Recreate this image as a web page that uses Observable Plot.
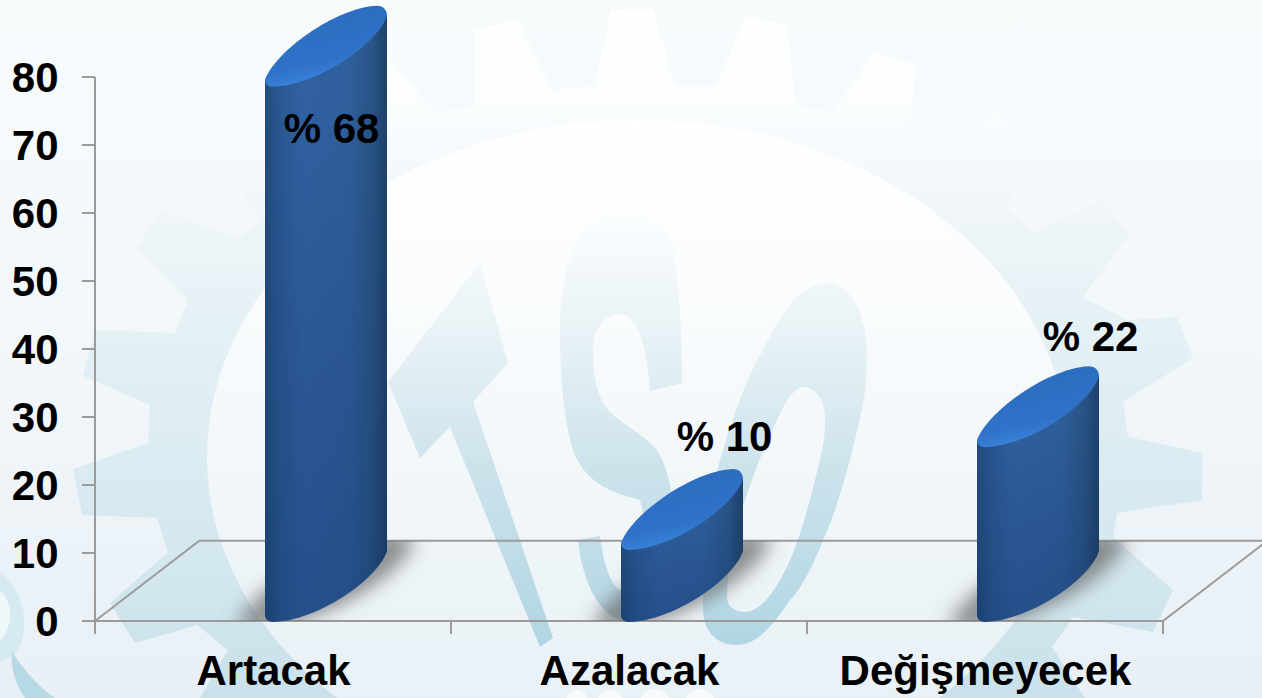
<!DOCTYPE html>
<html lang="tr">
<head>
<meta charset="utf-8">
<script src="https://cdn.jsdelivr.net/npm/d3@7"></script>
<script src="https://cdn.jsdelivr.net/npm/@observablehq/plot@0.6"></script>
<style>
  html, body { margin: 0; padding: 0; width: 1262px; height: 698px; overflow: hidden; background: #eaf2f6; }
  #bg { position: absolute; left: 0; top: 0; width: 1262px; height: 698px; }
  #chart { position: absolute; left: 0; top: 0; }
  #chart svg { display: block; background: transparent; }
</style>
</head>
<body>
<div id="bg"></div>
<div id="chart"></div>
<script>
// --- data ---
const categories = ["Artacak", "Azalacak", "Değişmeyecek"];
const percentages = [68, 10, 22];          // printed labels
const drawnHeights = [78.7, 10.6, 25.7];   // height of the drawn 3-D shapes against the axis
const yTicks = [0, 10, 20, 30, 40, 50, 60, 70, 80];
const floorDepth = 11.8;                   // back edge of the floor, in axis units

const rows = categories.map((category, i) => ({
  category, percent: percentages[i], height: drawnHeights[i]
}));

// --- layout and style, kept apart from the data ---
const font = "'Liberation Sans', Arial, sans-serif";
const labelPlace = [{dx: 58, level: 72.3}, {dx: 95, level: 27.1}, {dx: 105, level: 41.8}];
const gridColor = "#9b9b9b";

// --- decorative watermark (gear and letters) ---
const gearOutline = "200,698 228,650 197,625 135,643 110,603 168,552 157,518 82,515 73,469 148,443 150,405 83,376 95,330 175,333 188,300 137,247 160,210 238,238 260,220 225,165 260,135 318,178 345,155 330,85 390,57 435,113 473,105 475,30 517,20 553,90 595,85 611,10 653,9 676,86 716,86 745,17 787,25 796,105 832,112 874,52 916,65 910,133 932,157 997,112 1033,140 1008,208 1033,233 1100,200 1130,233 1083,297 1128,320 1177,317 1193,358 1123,402 1128,437 1203,453 1202,500 1117,513 1113,537 1173,590 1153,632 1073,617 1052,647 1085,698";
const bgSvg = `<svg xmlns="http://www.w3.org/2000/svg" width="1262" height="698" viewBox="0 0 1262 698">
<defs>
<linearGradient id="page" x1="0" y1="0" x2="0" y2="1"><stop offset="0" stop-color="#f7fbfc"/><stop offset="0.5" stop-color="#f2f7fa"/><stop offset="1" stop-color="#e8f0f6"/></linearGradient>
<linearGradient id="gear" gradientUnits="userSpaceOnUse" x1="0" y1="0" x2="0" y2="698"><stop offset="0" stop-color="#ffffff"/><stop offset="0.14" stop-color="#fbfdfe"/><stop offset="0.3" stop-color="#f0f6f9"/><stop offset="0.45" stop-color="#e6f1f5"/><stop offset="0.65" stop-color="#dbecf2"/><stop offset="1" stop-color="#c9e1ea"/></linearGradient>
<linearGradient id="hole" gradientUnits="userSpaceOnUse" x1="0" y1="120" x2="0" y2="698"><stop offset="0" stop-color="#ffffff"/><stop offset="0.3" stop-color="#fafcfd"/><stop offset="0.6" stop-color="#f2f7fa"/><stop offset="1" stop-color="#e8f1f6"/></linearGradient>
<linearGradient id="ink" gradientUnits="userSpaceOnUse" x1="0" y1="215" x2="0" y2="650"><stop offset="0" stop-color="#fbfdfe"/><stop offset="0.3" stop-color="#e6f1f5"/><stop offset="0.6" stop-color="#cbe2eb"/><stop offset="1" stop-color="#b0d5e3"/></linearGradient>
</defs>
<rect width="1262" height="698" fill="url(#page)"/>
<polygon points="${gearOutline}" fill="url(#gear)"/>
<ellipse cx="638" cy="457" rx="431" ry="337" fill="url(#hole)"/>
<g fill="url(#ink)">
<polygon points="480,263 508,363 473,402 553,638 540,647 450,427 420,458 388,382"/>
<path d="M682,383 L650,391 C648,355 640,314 620,314 C600,314 593,335 593,350 C593,380 598,400 610,412 C625,427 650,437 660,455 C670,475 678,510 670,550 C660,600 640,618 625,620 C600,620 582,580 578,540 L600,536 C603,560 610,590 625,592 C640,590 650,530 640,500 C625,495 590,490 575,455 C565,430 560,380 560,333 C560,270 575,217 613,217 C650,217 670,225 675,260 C680,300 682,340 682,383Z"/>
<path fill-rule="evenodd" d="M827,283 C855,283 868,325 867,357 C866,380 866,395 860,417 C852,455 845,480 835,510 C820,550 805,585 790,600 C770,630 755,645 737,645 C715,645 703,630 703,607 C703,550 710,490 723,450 C735,410 748,375 763,350 C780,315 800,283 827,283Z M803,387 C815,387 825,400 825,417 C826,440 820,460 815,480 C805,520 795,555 780,580 C770,598 757,612 745,612 C733,612 727,605 727,597 C727,565 735,530 745,500 C755,470 765,445 777,420 C785,402 795,387 803,387Z"/>
</g>
<path d="M0,572 C18,585 30,615 22,640 C18,655 8,660 0,662 Z" fill="#d6eaf1"/>
<path d="M0,590 C10,600 14,618 6,632 C3,638 1,640 0,641 Z" fill="#eff7f9"/>
<path d="M12,652 C25,672 40,688 55,698 L25,698 C16,685 10,668 12,652Z" fill="#b7d9e5"/>
<g fill="#f7fbfc"><ellipse cx="577" cy="699" rx="10" ry="9"/><ellipse cx="610" cy="700" rx="12" ry="10"/><ellipse cx="655" cy="700" rx="14" ry="11"/><ellipse cx="700" cy="700" rx="14" ry="11"/></g>
</svg>`;
document.getElementById("bg").style.background =
  `url("data:image/svg+xml,${encodeURIComponent(bgSvg)}") no-repeat 0 0`;

// --- lens outline of a slanted cylinder end, relative to its lowest-left point ---
const endPath = "M0,-4 C10,-32 70,-76 112,-78 C118,-78 122,-74 122,-68 C112,-38 50,2 8,3 C3,3 0,0 0,-4Z";
const bandOf = x => typeof x.bandwidth === "function" ? x.bandwidth() : x.bandwidth;

function floorMark(index, {x, y}) {
  const bw = bandOf(x);
  const left = x(categories[0]), right = x(categories[categories.length - 1]) + bw;
  const back = y(floorDepth), base = y(0), shift = bw * 0.293;
  const g = d3.create("svg:g").attr("fill", "none").attr("stroke", gridColor).attr("stroke-width", 2);
  g.append("path").attr("d", `M${left},${base}L${left + shift},${back}L${right + shift},${back}L${right},${base}Z`);
  g.append("path").attr("d", `M${left},${y(80)}V${base}`);
  categories.concat("end").forEach((c, i) => {
    const px = left + i * bw;
    g.append("path").attr("d", `M${px},${base}V${base + 13}`);
  });
  yTicks.forEach(t => g.append("path").attr("d", `M${left - 13},${y(t)}H${left}`));
  return g.node();
}

function barsMark(index, {x, y}) {
  const bw = bandOf(x);
  const root = d3.create("svg:g");
  const defs = root.append("defs");
  const grad = (id, horizontal, stops) => {
    const lg = defs.append("linearGradient").attr("id", id)
      .attr("x1", 0).attr("y1", 0).attr("x2", horizontal ? 1 : 0).attr("y2", horizontal ? 0 : 1);
    stops.forEach(([o, c, a]) => lg.append("stop").attr("offset", o).attr("stop-color", c).attr("stop-opacity", a ?? 1));
  };
  grad("bodyH", true, [[0, "#234d7f"], [0.12, "#2b5a94"], [0.3, "#3263a4"], [0.68, "#30619f"], [0.88, "#2a5587"], [1, "#1e4169"]]);
  grad("bodyV", false, [[0, "#0f2f60", 0], [1, "#0f2f60", 0.38]]);
  defs.append("linearGradient").attr("id", "capFill").attr("x1", 0).attr("y1", 0).attr("x2", 0.35).attr("y2", 1)
    .call(s => { s.append("stop").attr("offset", 0).attr("stop-color", "#2a6abb");
                 s.append("stop").attr("offset", 0.75).attr("stop-color", "#2f72c8");
                 s.append("stop").attr("offset", 1).attr("stop-color", "#3b86de"); });
  defs.append("filter").attr("id", "soft").attr("x", "-30%").attr("y", "-30%").attr("width", "160%").attr("height", "160%")
    .append("feGaussianBlur").attr("stdDeviation", 7);
  defs.append("clipPath").attr("id", "onFloor").append("rect")
    .attr("x", 0).attr("width", 1262).attr("y", y(floorDepth)).attr("height", y(0) - y(floorDepth));

  const shadows = root.append("g").attr("clip-path", "url(#onFloor)");
  rows.forEach(d => {
    const cx = x(d.category) + bw / 2 - 8;
    const base = y(0) - 2, top = y(d.height) - 2;
    shadows.append("path").attr("d", endPath)
      .attr("transform", `translate(${cx + 61},${base - 37}) scale(1.42,1.2) translate(-61,37)`)
      .attr("fill", "#666").attr("fill-opacity", 0.72).attr("filter", "url(#soft)");
    const g = root.append("g").attr("transform", `translate(${cx},${base})`);
    const h = top - base;   // negative
    const bodyFill = `M0,${h - 4}V-4C0,0 3,3 8,3C50,2 112,-38 122,-68V${h - 68}Z`;
    g.append("path").attr("d", bodyFill).attr("fill", "url(#bodyH)");
    g.append("path").attr("d", bodyFill).attr("fill", "url(#bodyV)");
    g.append("path").attr("d", endPath).attr("transform", `translate(0,${h})`).attr("fill", "url(#capFill)");
  });
  return root.node();
}

const plot = Plot.plot({
  width: 1262,
  height: 698,
  marginLeft: 95,
  marginRight: 99,
  marginTop: 77,
  marginBottom: 77,
  style: {background: "transparent", fontFamily: font, color: "#000", overflow: "visible"},
  x: {type: "band", domain: categories, padding: 0, label: null},
  y: {domain: [0, 80], label: null},
  marks: [
    floorMark,
    barsMark,
    Plot.axisY({ticks: yTicks, tickSize: 0, tickPadding: 37, fontSize: 42, fontWeight: "bold", fontFamily: font, fill: "#000", label: null, dy: 1}),
    Plot.axisX({tickSize: 0, tickPadding: 34, fontSize: 42, fontWeight: "bold", fontFamily: font, fill: "#000", label: null}),
    ...rows.map((d, i) => Plot.text([d], {
      x: "category",
      y: () => labelPlace[i].level,
      text: r => `% ${r.percent}`,
      dx: labelPlace[i].dx,
      fontSize: 42,
      fontWeight: "bold",
      fontFamily: font,
      fill: "#000"
    }))
  ]
});
document.getElementById("chart").appendChild(plot);
</script>
</body>
</html>
